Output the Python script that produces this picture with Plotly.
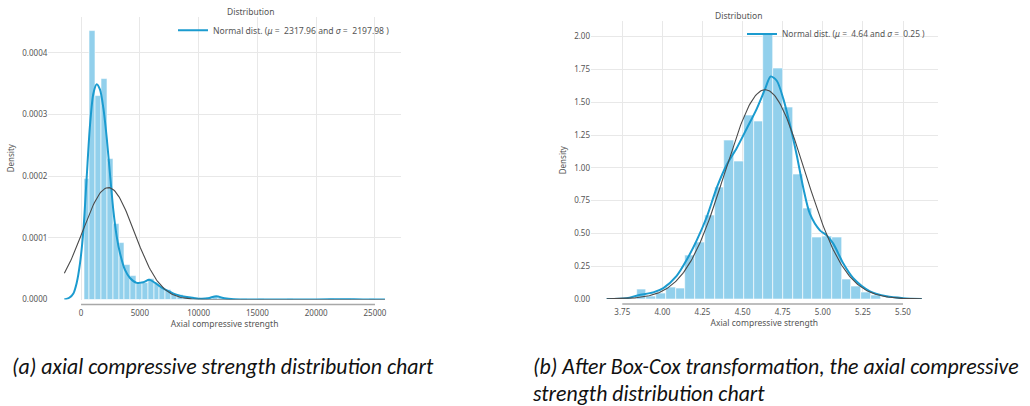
import numpy as np
import plotly.graph_objects as go

# ---------------- (a) raw axial compressive strength ----------------
raw_bin_start = 250.0
raw_bin_width = 495.0
# histogram densities, in units of 1e-4
raw_density_e4 = [
    1.96, 4.36, 3.30, 3.58, 2.28, 1.23, 0.92, 0.57, 0.38, 0.26,
    0.27, 0.33, 0.25, 0.19, 0.15, 0.10, 0.08, 0.05, 0.04, 0.02,
    0.01, 0.02, 0.04, 0.02, 0.01, 0.01, 0.00, 0.01, 0.00, 0.00,
    0.01, 0.00, 0.00, 0.00, 0.00, 0.01, 0.00, 0.00, 0.00, 0.00,
    0.00, 0.00, 0.01, 0.00, 0.01, 0.01, 0.00, 0.00, 0.00, 0.01,
]
# kernel density estimate (x, density in 1e-4)
raw_kde_x = [-1420, -1000, -650, -370, -85, 200, 480, 765, 1050, 1335,
             1615, 1900, 2185, 2465, 2750, 3035, 3315, 3740, 4165, 4735,
             5300, 5800, 6300, 6800, 7300, 8100, 9000, 10000, 10800, 11500,
             12200, 13000, 15000, 18000, 20000, 22500, 24000, 25850]
raw_kde_e4 = [0.00, 0.03, 0.10, 0.27, 0.59, 1.12, 1.98, 2.83, 3.34, 3.49,
              3.40, 3.10, 2.62, 2.03, 1.44, 1.02, 0.75, 0.48, 0.35, 0.27,
              0.28, 0.32, 0.27, 0.20, 0.15, 0.08, 0.04, 0.015, 0.02, 0.055,
              0.02, 0.005, 0.003, 0.002, 0.002, 0.006, 0.003, 0.0]
raw_mu, raw_sigma = 2317.96, 2197.98
raw_xticks = [0, 5000, 10000, 15000, 20000, 25000]
raw_yticks = [0.0, 0.0001, 0.0002, 0.0003, 0.0004]

# ---------------- (b) after Box-Cox transformation ----------------
bc_bin_start = 3.839
bc_bin_width = 0.06085
bc_density = [
    0.07, 0.02, 0.045, 0.09, 0.08, 0.33, 0.43, 0.635, 0.85, 1.21,
    1.05, 1.40, 1.355, 2.02, 1.76, 1.46, 0.95, 0.69, 0.47, 0.48,
    0.47, 0.146, 0.096, 0.05, 0.025,
]
bc_kde_x = [3.653, 3.777, 3.85, 3.943, 4.006, 4.089, 4.151, 4.214, 4.276, 4.339,
            4.401, 4.463, 4.526, 4.588, 4.64, 4.675, 4.713, 4.754, 4.796, 4.837,
            4.878, 4.92, 4.982, 5.024, 5.066, 5.128, 5.19, 5.294, 5.398, 5.502, 5.617]
bc_kde = [0.0, 0.006, 0.028, 0.05, 0.083, 0.176, 0.297, 0.447, 0.623, 0.849,
          1.024, 1.15, 1.30, 1.45, 1.60, 1.697, 1.664, 1.526, 1.325, 1.10,
          0.849, 0.648, 0.523, 0.485, 0.42, 0.27, 0.158, 0.058, 0.02, 0.006, 0.0]
bc_mu, bc_sigma = 4.64, 0.25
bc_xticks = [3.75, 4.00, 4.25, 4.50, 4.75, 5.00, 5.25, 5.50]
bc_yticks = [0.0, 0.25, 0.5, 0.75, 1.0, 1.25, 1.5, 1.75, 2.0]

BAR = "#92d0ec"
KDE = "#1b9bcf"
FIT = "#4a4a4a"
GRID = "#e8e8e8"
TXT = "#555555"
FONT = "Noto Sans"

W, H = 1030, 406


def normal_pdf(x, mu, sigma):
    return np.exp(-0.5 * ((x - mu) / sigma) ** 2) / (sigma * np.sqrt(2 * np.pi))


fig = go.Figure()


def add_panel(xa, ya, start, width, dens, kx, ky, mu, sigma, label, legend):
    dens = np.asarray(dens, dtype=float)
    centers = start + width * (np.arange(len(dens)) + 0.5)
    fig.add_trace(go.Bar(
        x=centers, y=dens, width=width, xaxis=xa, yaxis=ya,
        marker=dict(color=BAR, line=dict(color="white", width=0.6)),
        showlegend=False, hoverinfo="skip"))
    fig.add_trace(go.Scatter(
        x=kx, y=ky, mode="lines", line=dict(color=KDE, width=2, shape="spline", smoothing=0.8),
        xaxis=xa, yaxis=ya, name=label, legend=legend, showlegend=True))
    fx = np.linspace(kx[0], kx[-1], 300)
    fig.add_trace(go.Scatter(
        x=fx, y=normal_pdf(fx, mu, sigma), mode="lines",
        line=dict(color=FIT, width=1.1), xaxis=xa, yaxis=ya,
        showlegend=False, hoverinfo="skip"))


add_panel("x", "y", raw_bin_start, raw_bin_width, np.asarray(raw_density_e4) * 1e-4,
          raw_kde_x, list(np.asarray(raw_kde_e4) * 1e-4), raw_mu, raw_sigma,
          f"Normal dist. (<i>μ</i> =  {raw_mu:.2f} and <i>σ</i> =  {raw_sigma:.2f} )", "legend")
add_panel("x2", "y2", bc_bin_start, bc_bin_width, bc_density,
          bc_kde_x, bc_kde, bc_mu, bc_sigma,
          f"Normal dist. (<i>μ</i> =  {bc_mu:.2f} and <i>σ</i> =  {bc_sigma:.2f} )", "legend2")


def px_x(p):
    return p / W


def px_y(p):
    return 1 - p / H


axis_common = dict(showgrid=True, gridcolor=GRID, gridwidth=1, zeroline=False,
                   showline=False, ticks="", tickfont=dict(size=8, color=TXT, family=FONT))

raw_dom_x = [px_x(48.3), px_x(401)]
raw_dom_y = [px_y(303.3), px_y(17.1)]
bc_dom_x = [px_x(591), px_x(937.5)]
bc_dom_y = [px_y(302.7), px_y(21.6)]

fig.update_layout(
    width=W, height=H, margin=dict(l=0, r=0, t=0, b=0),
    paper_bgcolor="white", plot_bgcolor="white",
    font=dict(family=FONT, color=TXT),
    bargap=0,
    xaxis=dict(domain=raw_dom_x, range=[-2784, 27214], tickvals=raw_xticks, tickformat="d",
               ticklabelstandoff=7,
               title=dict(text="Axial compressive strength", font=dict(size=8.5, color=TXT), standoff=3),
               **axis_common),
    yaxis=dict(domain=raw_dom_y, range=[0, 0.000458], tickvals=raw_yticks, tickformat=".4f",
               anchor="x",
               title=dict(text="Density", font=dict(size=8, color=TXT), standoff=6),
               **axis_common),
    xaxis2=dict(domain=bc_dom_x, range=[3.555, 5.715], tickvals=bc_xticks, tickformat=".2f",
                anchor="y2", ticklabelstandoff=7,
                title=dict(text="Axial compressive strength", font=dict(size=8.5, color=TXT), standoff=3),
                **axis_common),
    yaxis2=dict(domain=bc_dom_y, range=[0, 2.117], tickvals=bc_yticks, tickformat=".2f",
                anchor="x2",
                title=dict(text="Density", font=dict(size=8, color=TXT), standoff=6),
                **axis_common),
    legend=dict(x=px_x(173), y=px_y(30.7), xanchor="left", yanchor="middle",
                bgcolor="rgba(0,0,0,0)", font=dict(size=8.6, color=TXT, family=FONT)),
    legend2=dict(x=px_x(742), y=px_y(34.3), xanchor="left", yanchor="middle",
                 bgcolor="rgba(0,0,0,0)", font=dict(size=8.4, color=TXT, family=FONT)),
)

# trimmed, offset bottom spines spanning the first to last tick
for xa, ticks, dom in (("x", raw_xticks, raw_dom_y), ("x2", bc_xticks, bc_dom_y)):
    fig.add_shape(type="line", xref=xa, yref="paper",
                  x0=ticks[0], x1=ticks[-1], y0=dom[0] - 5 / H, y1=dom[0] - 5 / H,
                  line=dict(color="#a8a8a8", width=1.5))

# panel titles
for dom, ty in ((raw_dom_x, 11.7), (bc_dom_x, 16)):
    fig.add_annotation(text="Distribution", xref="paper", yref="paper",
                       x=(dom[0] + dom[1]) / 2, y=px_y(ty), yanchor="middle", showarrow=False,
                       font=dict(size=8.5, color=TXT, family=FONT))

# captions
CAP = dict(size=21.8, color="#111111", family="Carlito, Calibri, sans-serif")
fig.add_annotation(text="<i>(a) axial compressive strength distribution chart</i>",
                   xref="paper", yref="paper", x=px_x(10), y=px_y(371),
                   xanchor="left", yanchor="middle", showarrow=False, font=CAP)
fig.add_annotation(text="<i>(b) After Box-Cox transformation, the axial compressive</i>",
                   xref="paper", yref="paper", x=px_x(531), y=px_y(371),
                   xanchor="left", yanchor="middle", showarrow=False, font=CAP)
fig.add_annotation(text="<i>strength distribution chart</i>",
                   xref="paper", yref="paper", x=px_x(531), y=px_y(398),
                   xanchor="left", yanchor="middle", showarrow=False, font=CAP)

fig.write_html("out.html")
